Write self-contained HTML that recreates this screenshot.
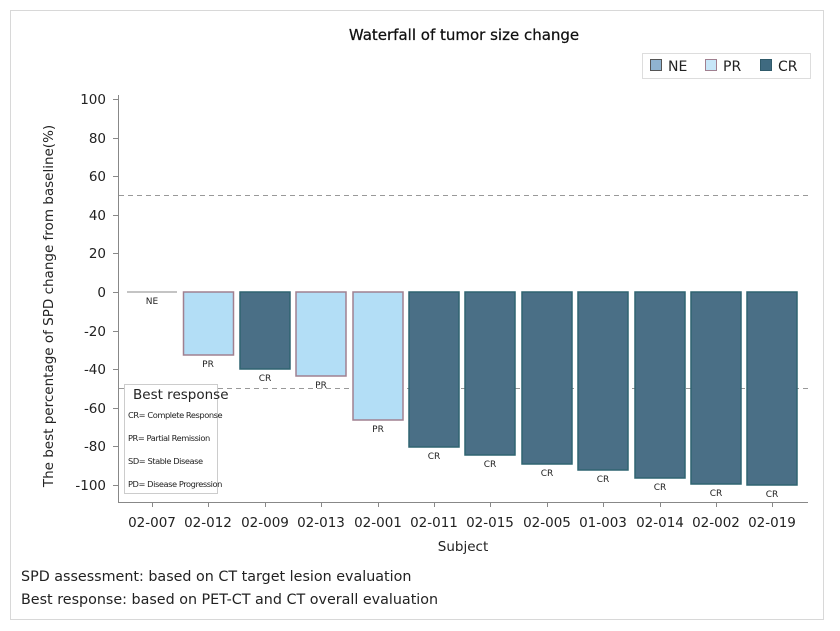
<!DOCTYPE html>
<html><head><meta charset="utf-8"><style>
html,body{margin:0;padding:0;background:#fff}
svg{display:block;font-family:"DejaVu Sans","Liberation Sans",sans-serif}
</style></head><body>
<svg width="840" height="631" viewBox="0 0 840 631">
<rect x="10.5" y="10.5" width="813" height="609" fill="#fff" stroke="#d8d8d8"/>
<text x="464" y="40" font-size="15" text-anchor="middle" fill="#111" stroke="#111" stroke-width="0.25">Waterfall of tumor size change</text>
<rect x="642.5" y="53.5" width="168" height="25" fill="#fff" stroke="#ddd"/>
<rect x="650.5" y="59.5" width="11" height="11" fill="#8fb3d0" stroke="#555"/>
<text x="668" y="71" font-size="14" fill="#222">NE</text>
<rect x="705.5" y="59.5" width="11" height="11" fill="#c7e6f8" stroke="#a08090"/>
<text x="723" y="71" font-size="14" fill="#222">PR</text>
<rect x="760.5" y="59.5" width="11" height="11" fill="#3f6a80" stroke="#2f5a6a"/>
<text x="778" y="71" font-size="14" fill="#222">CR</text>
<line x1="118.5" y1="95" x2="118.5" y2="502" stroke="#888"/>
<line x1="118" y1="502.5" x2="808" y2="502.5" stroke="#888"/>
<g stroke="#888">
<line x1="113" y1="99.5" x2="118" y2="99.5"/><line x1="113" y1="138.5" x2="118" y2="138.5"/>
<line x1="113" y1="176.5" x2="118" y2="176.5"/><line x1="113" y1="215.5" x2="118" y2="215.5"/>
<line x1="113" y1="253.5" x2="118" y2="253.5"/><line x1="113" y1="292.5" x2="118" y2="292.5"/>
<line x1="113" y1="331.5" x2="118" y2="331.5"/><line x1="113" y1="369.5" x2="118" y2="369.5"/>
<line x1="113" y1="408.5" x2="118" y2="408.5"/><line x1="113" y1="446.5" x2="118" y2="446.5"/>
<line x1="113" y1="485.5" x2="118" y2="485.5"/>
</g>
<g font-size="13.5" fill="#222" text-anchor="end">
<text x="106" y="104">100</text><text x="106" y="143">80</text><text x="106" y="181">60</text>
<text x="106" y="220">40</text><text x="106" y="258">20</text><text x="106" y="297">0</text>
<text x="106" y="336">-20</text><text x="106" y="374">-40</text><text x="106" y="413">-60</text>
<text x="106" y="451">-80</text><text x="106" y="490">-100</text>
</g>
<text transform="translate(53,306) rotate(-90)" font-size="13.5" fill="#222" text-anchor="middle">The best percentage of SPD change from baseline(%)</text>
<line x1="119" y1="195.5" x2="808" y2="195.5" stroke="#999" stroke-dasharray="5,4"/>
<line x1="119" y1="388.5" x2="808" y2="388.5" stroke="#999" stroke-dasharray="5,4"/>
<line x1="127" y1="292" x2="177" y2="292" stroke="#888"/>
<g stroke-width="1.5">
<rect x="183.5" y="292" width="50" height="63" fill="#b3def6" stroke="#a08090"/>
<rect x="240" y="292" width="50" height="77" fill="#4a6f86" stroke="#2f6470"/>
<rect x="296" y="292" width="50" height="84" fill="#b3def6" stroke="#a08090"/>
<rect x="353" y="292" width="50" height="128" fill="#b3def6" stroke="#a08090"/>
<rect x="409" y="292" width="50" height="155" fill="#4a6f86" stroke="#2f6470"/>
<rect x="465" y="292" width="50" height="163" fill="#4a6f86" stroke="#2f6470"/>
<rect x="522" y="292" width="50" height="172" fill="#4a6f86" stroke="#2f6470"/>
<rect x="578" y="292" width="50" height="178" fill="#4a6f86" stroke="#2f6470"/>
<rect x="635" y="292" width="50" height="186" fill="#4a6f86" stroke="#2f6470"/>
<rect x="691" y="292" width="50" height="192" fill="#4a6f86" stroke="#2f6470"/>
<rect x="747" y="292" width="50" height="193" fill="#4a6f86" stroke="#2f6470"/>
</g>
<g font-size="9" fill="#222" text-anchor="middle">
<text x="152" y="304">NE</text><text x="208" y="367">PR</text><text x="265" y="381">CR</text>
<text x="321" y="388">PR</text><text x="378" y="432">PR</text><text x="434" y="459">CR</text>
<text x="490" y="467">CR</text><text x="547" y="476">CR</text><text x="603" y="482">CR</text>
<text x="660" y="490">CR</text><text x="716" y="496">CR</text><text x="772" y="497">CR</text>
</g>
<rect x="124.5" y="384.5" width="93" height="109" fill="#fff" stroke="#ccc"/>
<text x="133" y="399" font-size="13.5" fill="#222">Best response</text>
<g font-size="8.3" fill="#222" letter-spacing="-0.45">
<text x="128" y="418">CR= Complete Response</text>
<text x="128" y="441">PR= Partial Remission</text>
<text x="128" y="464">SD= Stable Disease</text>
<text x="128" y="487">PD= Disease Progression</text>
</g>
<g stroke="#888">
<line x1="152.5" y1="502" x2="152.5" y2="507"/><line x1="208.5" y1="502" x2="208.5" y2="507"/>
<line x1="265.5" y1="502" x2="265.5" y2="507"/><line x1="321.5" y1="502" x2="321.5" y2="507"/>
<line x1="378.5" y1="502" x2="378.5" y2="507"/><line x1="434.5" y1="502" x2="434.5" y2="507"/>
<line x1="490.5" y1="502" x2="490.5" y2="507"/><line x1="547.5" y1="502" x2="547.5" y2="507"/>
<line x1="603.5" y1="502" x2="603.5" y2="507"/><line x1="660.5" y1="502" x2="660.5" y2="507"/>
<line x1="716.5" y1="502" x2="716.5" y2="507"/><line x1="772.5" y1="502" x2="772.5" y2="507"/>
</g>
<g font-size="13.5" fill="#222" text-anchor="middle">
<text x="152" y="527">02-007</text><text x="208" y="527">02-012</text><text x="265" y="527">02-009</text>
<text x="321" y="527">02-013</text><text x="378" y="527">02-001</text><text x="434" y="527">02-011</text>
<text x="490" y="527">02-015</text><text x="547" y="527">02-005</text><text x="603" y="527">01-003</text>
<text x="660" y="527">02-014</text><text x="716" y="527">02-002</text><text x="772" y="527">02-019</text>
<text x="463" y="551">Subject</text>
</g>
<text x="21" y="581" font-size="14.3" fill="#222">SPD assessment: based on CT target lesion evaluation</text>
<text x="21" y="604" font-size="14.3" fill="#222">Best response: based on PET-CT and CT overall evaluation</text>
</svg>
</body></html>
